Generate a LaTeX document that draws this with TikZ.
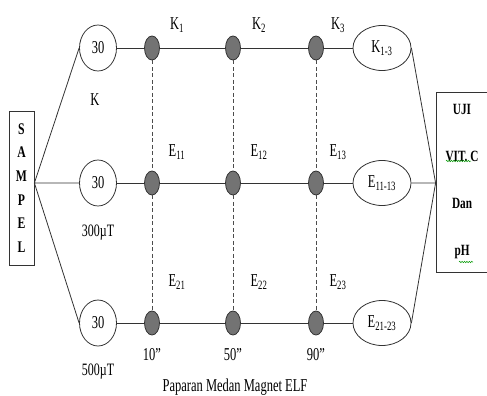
\documentclass[tikz,border=0pt]{standalone}
\usepackage{fontspec}
\usepackage{graphicx}
\setmainfont{Liberation Serif}
\usetikzlibrary{shapes.geometric,decorations.pathmorphing}

% teks lebih tinggi seperti gambar asli
\newcommand{\tinggi}[1]{\scalebox{1}[1.45]{#1}}
\newcommand{\tebal}[1]{\scalebox{0.9}[1.25]{#1}}

\tikzset{
  garis/.style={draw=black!80, line width=0.8pt},
  putus/.style={draw=black!70, line width=0.6pt, dash pattern=on 4pt off 2.5pt},
  dosis/.style={garis, ellipse, minimum width=37pt, minimum height=46pt, inner sep=0pt},
  titik/.style={garis, ellipse, fill=black!55, minimum width=15pt, minimum height=24pt, inner sep=0pt},
  hasil/.style={garis, ellipse, minimum width=58pt, minimum height=45pt, inner sep=0pt},
  kotak/.style={garis, rectangle, align=center, inner sep=0pt},
  ejaan/.style={draw=green!60!black, line width=0.5pt, decorate,
                decoration={snake, amplitude=0.7pt, segment length=2.4pt}}
}

\begin{document}
\begin{tikzpicture}[x=1pt,y=-1pt,font=\fontsize{12.5}{14}\selectfont]
  \useasboundingbox[fill=white] (0,0) rectangle (487,396);

  % kotak sampel dan kotak uji
  \node[kotak, minimum width=25pt, minimum height=154pt,
        font=\fontsize{13}{23.6}\selectfont\bfseries] (sampel) at (21.5,188)
        {\tebal{S}\\\tebal{A}\\\tebal{M}\\\tebal{P}\\\tebal{E}\\\tebal{L}};
  \node[kotak, minimum width=52pt, minimum height=180pt,
        font=\fontsize{12.5}{47}\selectfont\bfseries] (uji) at (462,182)
        {\tebal{UJI}\\\tebal{VIT. C}\\\tebal{Dan}\\\tebal{pH}};
  % garis ejaan di bawah VIT dan pH
  \draw[ejaan] (446,161) -- (471,161);
  \draw[ejaan] (459,262) -- (473,262);

  % tiga baris perlakuan
  \foreach \r/\y/\hsl in {1/48/K\textsubscript{1-3}, 2/183/E\textsubscript{11-13}, 3/323/E\textsubscript{21-23}} {
    \node[dosis] (d\r) at (98,\y) {\tinggi{30}};
    \foreach \c/\x in {1/152,2/233,3/316}
      \node[titik] (t\r\c) at (\x,\y) {};
    \node[hasil] (h\r) at (382,\y) {\tinggi{\hsl}};
    \draw[garis] (d\r) -- (t\r1) -- (t\r2) -- (t\r3) -- (h\r);
  }

  % garis putus-putus antar baris
  \foreach \c in {1,2,3}
    \draw[putus] (t1\c) -- (t2\c) (t2\c) -- (t3\c);

  % cabang kiri dan kanan
  \coordinate (kiri) at (sampel.east |- d2);
  \coordinate (kanan) at (uji.west |- h2);
  \draw[garis] (d1.west) -- (kiri) -- (d2) (kiri) -- (d3.west);
  \draw[garis] (h1.east) -- (kanan) -- (h2) (kanan) -- (h3.east);

  % label kolom
  \foreach \c/\x in {1/177, 2/259, 3/338} {
    \node (lk\c) at (\x,25) {\tinggi{K\textsubscript{\c}}};
    \node (le1\c) at (\x,152) {\tinggi{E\textsubscript{1\c}}};
    \node (le2\c) at (\x,282) {\tinggi{E\textsubscript{2\c}}};
  }
  \foreach \c/\x/\w in {1/152/10, 2/233/50, 3/316/90}
    \node (wk\c) at (\x,355) {\tinggi{\w''}};

  % label dosis
  \node (lk) at (95,100) {\tinggi{K}};
  \node[font=\fontsize{12}{14}\selectfont] (l300) at (98,233) {\tinggi{300µT}};
  \node[font=\fontsize{12}{14}\selectfont] (l500) at (98,372) {\tinggi{500µT}};
  \node (judul) at (235,387) {\tinggi{Paparan Medan Magnet ELF}};
\end{tikzpicture}
\end{document}
